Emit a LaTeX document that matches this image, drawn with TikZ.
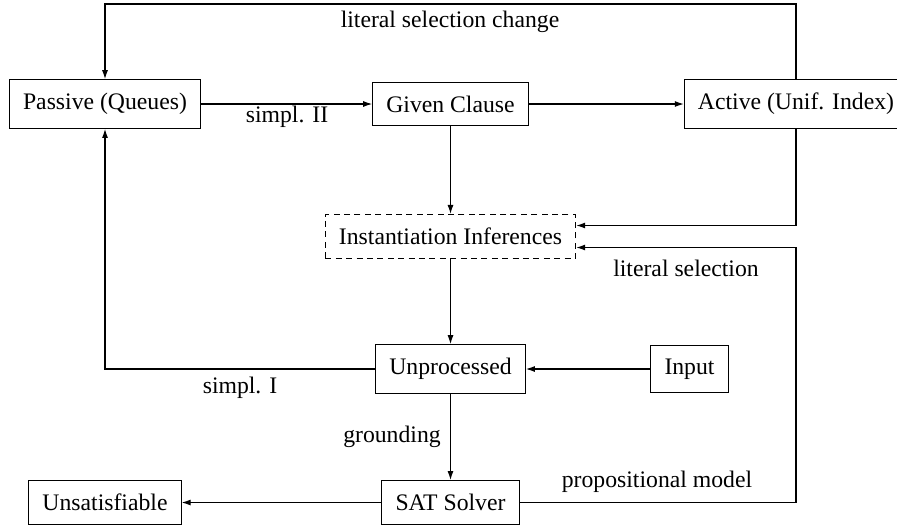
\documentclass[tikz,border=0pt]{standalone}
\usepackage{fontspec}
\setmainfont{Liberation Serif}
\usetikzlibrary{arrows.meta}
\begin{document}
\begin{tikzpicture}[x=0.5pt,y=-0.5pt,
  box/.style={draw,line width=0.55pt,inner sep=6.8pt,font=\fontsize{11.85}{14}\selectfont},
  dbox/.style={box,dash pattern=on 3pt off 2.2pt},
  lbl/.style={inner sep=0pt,font=\fontsize{11.85}{14}\selectfont},
  arr/.style={line width=0.55pt,-{Latex[length=4.5pt,width=3pt]}}]
\useasboundingbox (0,0) rectangle (897,527);
\node[box] (passive) at (105,104) {Passive (Queues)};
\node[box] (given) at (450.5,104) {Given Clause};
\node[box] (active) at (796,104) {Active (Unif. Index)};
\node[dbox] (inst) at (450.5,236.5) {Instantiation Inferences};
\node[box] (unproc) at (450.5,369) {Unprocessed};
\node[box] (input) at (689.5,369) {Input};
\node[box] (sat) at (450.5,502.5) {SAT Solver};
\node[box] (unsat) at (105,502.5) {Unsatisfiable};
\coordinate (c1) at (796,4);
\coordinate (c2) at (105,4);
\draw[arr] (active.north) -- (c1) -- (c2) -- (passive.north);
\draw[arr] (passive) -- (given);
\draw[arr] (given) -- (active);
\draw[arr] (given) -- (inst);
\draw[arr] (active.south) |- ([yshift=5.5pt]inst.east);
\draw[arr] (sat.east) -- (sat.east -| active.south) |- ([yshift=-5.5pt]inst.east);
\draw[arr] (inst) -- (unproc);
\draw[arr] (input) -- (unproc);
\draw[arr] (unproc.west) -| (passive.south);
\draw[arr] (unproc) -- (sat);
\draw[arr] (sat) -- (unsat);
\node[lbl] (l1) at (450,22) {literal selection change};
\node[lbl] (l2) at (287,117) {simpl. II};
\node[lbl] (l3) at (686,268) {literal selection};
\node[lbl] (l4) at (240,388) {simpl. I};
\node[lbl] (l5) at (392,437) {grounding};
\node[lbl] (l6) at (657,482) {propositional model};
\end{tikzpicture}
\end{document}
